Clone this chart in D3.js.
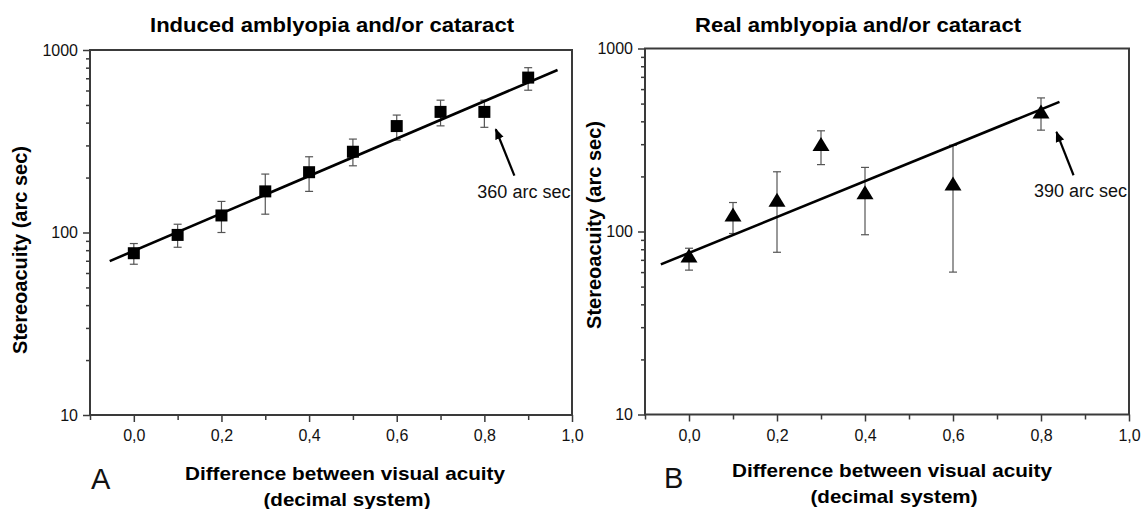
<!DOCTYPE html>
<html>
<head>
<meta charset="utf-8">
<script src="https://cdn.jsdelivr.net/npm/d3@7/dist/d3.min.js"></script>
<style>
  html, body { margin: 0; padding: 0; background: #fff; }
  svg { display: block; font-family: "Liberation Sans", Arial, sans-serif; }
</style>
</head>
<body>
<svg id="fig" width="1142" height="509"></svg>
<script>
// Panel A: induced amblyopia and/or cataract (squares)
const acuityDiffA = [0.0, 0.1, 0.2, 0.3, 0.4, 0.5, 0.6, 0.7, 0.8, 0.9];
const stereoA     = [77, 97, 124, 168, 214, 277, 383, 458, 458, 706];
const stereoHiA   = [87, 111, 148, 209, 260, 325, 440, 531, 531, 800];
const stereoLoA   = [67, 83, 100, 126, 168, 232, 321, 384, 377, 602];
const fitA        = [[-0.055, 69.7], [0.967, 777]];
const noteA       = { label: "360 arc sec", text: [0.784, 154], tail: [0.8685, 205], tip: [0.826, 368] };

// Panel B: real amblyopia and/or cataract (triangles)
const acuityDiffB = [0.0, 0.1, 0.2, 0.3, 0.4, 0.6, 0.8];
const stereoB     = [74, 124, 149, 301, 164, 183, 453];
const stereoHiB   = [81, 144, 212, 355, 224, 296, 537];
const stereoLoB   = [61.5, 97.5, 77, 232, 96, 60, 358];
const fitB        = [[-0.064, 66.1], [0.842, 511]];
const noteB       = { label: "390 arc sec", text: [0.784, 154.5], tail: [0.874, 203], tip: [0.835, 350] };

// Axis ticks
const xMajorTicks = [0.0, 0.2, 0.4, 0.6, 0.8, 1.0];
const xMinorTicks = [-0.1, 0.1, 0.3, 0.5, 0.7, 0.9];
const yMajorTicks = [10, 100, 1000];
const yMinorTicks = [20, 30, 40, 50, 60, 70, 80, 90, 200, 300, 400, 500, 600, 700, 800, 900];

const svg = d3.select("#fig");
const axisColor = "#3a3a3a";
const fmtX = v => d3.format(".1f")(v).replace(".", ",");

svg.append("defs").append("marker")
  .attr("id", "arrowHead")
  .attr("viewBox", "0 0 10 10")
  .attr("refX", 9).attr("refY", 5)
  .attr("markerWidth", 5).attr("markerHeight", 5)
  .attr("markerUnits", "strokeWidth")
  .attr("orient", "auto")
  .append("path").attr("d", "M0,1 L10,5 L0,9 Z").attr("fill", "#000");

function panel(cfg) {
  const x = d3.scaleLinear().domain([-0.1, 1.0]).range([cfg.left, cfg.right]);
  const y = d3.scaleLog().domain([10, 1000]).range([cfg.bottom, cfg.top]);
  const g = svg.append("g");

  // x axis: major + minor ticks
  const gx = g.append("g").attr("transform", `translate(0,${cfg.bottom})`)
    .call(d3.axisBottom(x).tickValues(xMajorTicks).tickFormat(fmtX).tickSize(7).tickPadding(8));
  const gxm = g.append("g").attr("transform", `translate(0,${cfg.bottom})`)
    .call(d3.axisBottom(x).tickValues(xMinorTicks).tickFormat("").tickSize(5));

  // y axis: major + minor ticks
  const gy = g.append("g").attr("transform", `translate(${cfg.left},0)`)
    .call(d3.axisLeft(y).tickValues(yMajorTicks).tickFormat(d3.format("d")).tickSize(7).tickPadding(5));
  const gym = g.append("g").attr("transform", `translate(${cfg.left},0)`)
    .call(d3.axisLeft(y).tickValues(yMinorTicks).tickFormat("").tickSize(4));

  [gx, gxm, gy, gym].forEach(a => {
    a.select(".domain").remove();
    a.selectAll(".tick line").attr("stroke", axisColor).attr("stroke-width", 1.5);
    a.selectAll(".tick text").attr("fill", "#111").attr("font-size", 16)
      .attr("font-family", "'Liberation Sans', Arial, sans-serif");
  });

  // frame
  g.append("rect")
    .attr("x", cfg.left).attr("y", cfg.top)
    .attr("width", cfg.right - cfg.left).attr("height", cfg.bottom - cfg.top)
    .attr("fill", "none").attr("stroke", axisColor).attr("stroke-width", 2);

  // error bars
  const eb = g.append("g").attr("stroke", "#555").attr("stroke-width", 1.2).attr("fill", "none");
  cfg.xs.forEach((xv, i) => {
    const cx = x(xv), yh = y(cfg.hi[i]), yl = y(cfg.lo[i]);
    eb.append("line").attr("x1", cx).attr("x2", cx).attr("y1", yh).attr("y2", yl);
    eb.append("line").attr("x1", cx - 4).attr("x2", cx + 4).attr("y1", yh).attr("y2", yh);
    eb.append("line").attr("x1", cx - 4).attr("x2", cx + 4).attr("y1", yl).attr("y2", yl);
  });

  // regression line
  g.append("line")
    .attr("x1", x(cfg.fit[0][0])).attr("y1", y(cfg.fit[0][1]))
    .attr("x2", x(cfg.fit[1][0])).attr("y2", y(cfg.fit[1][1]))
    .attr("stroke", "#000").attr("stroke-width", 2.6);

  // markers
  const mk = g.append("g").attr("fill", "#000");
  cfg.xs.forEach((xv, i) => {
    const cx = x(xv), cy = y(cfg.ys[i]);
    if (cfg.marker === "square") {
      mk.append("rect").attr("x", cx - 6).attr("y", cy - 6).attr("width", 12).attr("height", 12);
    } else {
      mk.append("path").attr("d", `M${cx},${cy - 7} L${cx + 8.5},${cy + 7} L${cx - 8.5},${cy + 7} Z`);
    }
  });

  // annotation
  g.append("line")
    .attr("x1", x(cfg.note.tail[0])).attr("y1", y(cfg.note.tail[1]))
    .attr("x2", x(cfg.note.tip[0])).attr("y2", y(cfg.note.tip[1]))
    .attr("stroke", "#000").attr("stroke-width", 2.2)
    .attr("marker-end", "url(#arrowHead)");
  g.append("text")
    .attr("x", x(cfg.note.text[0])).attr("y", y(cfg.note.text[1]))
    .attr("font-size", 18).attr("fill", "#111")
    .text(cfg.note.label);

  // titles
  g.append("text")
    .attr("x", cfg.titleX).attr("y", cfg.titleY)
    .attr("text-anchor", "middle").attr("font-weight", "bold").attr("font-size", 20)
    .attr("textLength", cfg.titleLen).attr("lengthAdjust", "spacingAndGlyphs")
    .text(cfg.title);

  g.append("text")
    .attr("transform", `translate(${cfg.yTitleX},${cfg.yTitleY}) rotate(-90)`)
    .attr("text-anchor", "middle").attr("font-weight", "bold").attr("font-size", 20)
    .text("Stereoacuity (arc sec)");

  g.append("text")
    .attr("x", cfg.xTitleX).attr("y", cfg.xTitleY)
    .attr("text-anchor", "middle").attr("font-weight", "bold").attr("font-size", 19)
    .attr("textLength", 320).attr("lengthAdjust", "spacingAndGlyphs")
    .text("Difference between visual acuity");
  g.append("text")
    .attr("x", cfg.xTitleX + 2).attr("y", cfg.xTitleY + 26)
    .attr("text-anchor", "middle").attr("font-weight", "bold").attr("font-size", 19)
    .attr("textLength", 167).attr("lengthAdjust", "spacingAndGlyphs")
    .text("(decimal system)");

  g.append("text")
    .attr("x", cfg.letterX).attr("y", cfg.letterY)
    .attr("font-size", 29).attr("fill", "#111")
    .text(cfg.letter);
}

panel({
  left: 90, right: 572, top: 50, bottom: 415,
  xs: acuityDiffA, ys: stereoA, hi: stereoHiA, lo: stereoLoA, fit: fitA, note: noteA,
  marker: "square",
  title: "Induced amblyopia and/or cataract", titleX: 332, titleY: 32, titleLen: 364,
  yTitleX: 27, yTitleY: 250,
  xTitleX: 345, xTitleY: 480,
  letter: "A", letterX: 91, letterY: 489
});

panel({
  left: 645, right: 1129, top: 48.5, bottom: 414.5,
  xs: acuityDiffB, ys: stereoB, hi: stereoHiB, lo: stereoLoB, fit: fitB, note: noteB,
  marker: "triangle",
  title: "Real amblyopia and/or cataract", titleX: 858, titleY: 32, titleLen: 326,
  yTitleX: 601, yTitleY: 225,
  xTitleX: 892, xTitleY: 477,
  letter: "B", letterX: 664, letterY: 488
});
</script>
</body>
</html>
